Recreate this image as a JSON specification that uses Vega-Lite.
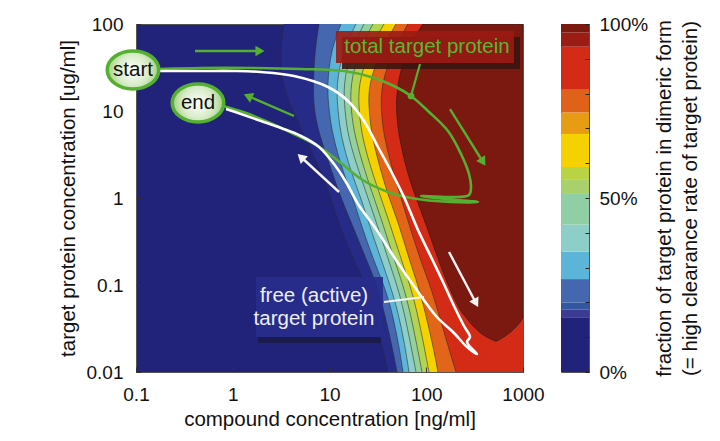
{
"$schema": "https://vega.github.io/schema/vega-lite/v6.json",
"background": "white",
"padding": {"left": 57, "top": 14, "right": 5, "bottom": 5},
"spacing": 38,
"bounds": "flush",
"config": {"font": "Liberation Sans", "view": {"stroke": null}},
"datasets": {
"bands": [
{"y":100,"A":3.39,"B":7.79,"C":13.15,"D":18.79,"E":22.73,"F":28.16,"G":36.59,"H":48.68,"I":64.77},
{"y":50,"A":3.08,"B":7.08,"C":10.36,"D":13.79,"E":16.68,"F":20.18,"G":25.61,"H":34.07,"I":45.33},
{"y":20,"A":3.23,"B":6.75,"C":9.42,"D":11.67,"E":13.79,"F":16.29,"G":19.71,"H":25.0,"I":34.07},
{"y":10,"A":4.2,"B":6.91,"C":9.88,"D":12.24,"E":14.46,"F":16.68,"G":20.18,"H":25.61,"I":34.07},
{"y":5,"A":5.58,"B":7.98,"C":10.87,"D":13.15,"E":15.53,"F":18.35,"G":21.67,"H":27.5,"I":36.59},
{"y":2,"A":8.17,"B":10.61,"C":13.79,"D":16.68,"E":20.18,"F":23.28,"G":27.5,"H":34.07,"I":45.33},
{"y":1,"A":10.36,"B":13.15,"C":17.5,"D":21.16,"E":25.0,"F":28.84,"G":34.07,"H":41.21,"I":54.83},
{"y":0.5,"A":12.54,"B":17.08,"C":21.16,"D":25.61,"E":30.97,"F":35.73,"G":42.2,"H":52.29,"I":66.32},
{"y":0.2,"A":17.5,"B":23.84,"C":28.16,"D":34.07,"E":40.24,"F":46.42,"G":54.83,"H":66.32,"I":86.17},
{"y":0.1,"A":23.84,"B":30.97,"C":36.59,"D":42.2,"E":49.86,"F":57.5,"G":67.92,"H":82.18,"I":109.3},
{"y":0.05,"A":28.84,"B":36.59,"C":44.26,"D":51.05,"E":58.88,"F":67.92,"G":80.25,"H":97.07,"I":132.3},
{"y":0.02,"A":34.89,"B":44.26,"C":52.29,"D":60.31,"E":69.56,"F":80.25,"G":94.8,"H":117.4,"I":167.8},
{"y":0.01,"A":40.24,"B":49.86,"C":57.5,"D":66.32,"E":78.37,"F":90.4,"G":106.8,"H":132.3,"I":203.0}
],
"darkred": [
{"y":100,"xl":92.56,"xr":1000},
{"y":50,"xl":61.76,"xr":1000},
{"y":20,"xl":49.86,"xr":1000},
{"y":10,"xl":48.68,"xr":1000},
{"y":5,"xl":52.29,"xr":1000},
{"y":2,"xl":63.24,"xr":1000},
{"y":1,"xl":78.37,"xr":1000},
{"y":0.5,"xl":99.4,"xr":1000},
{"y":0.2,"xl":132.3,"xr":1000},
{"y":0.1,"xl":167.8,"xr":1000},
{"y":0.05,"xl":223.3,"xr":1000},
{"y":0.0429,"xl":257.6,"xr":1000},
{"y":0.0376,"xl":276.6,"xr":953.5},
{"y":0.0288,"xl":351.0,"xr":751.6},
{"y":0.0253,"xl":414.6,"xr":636.3},
{"y":0.0227,"xl":513.5,"xr":538.6}
],
"boxes": [
{"x1":13.46,"x2":931,"y1":70.9,"y2":30.4,"kind":"shadowred"},
{"x1":11.67,"x2":807,"y1":83.1,"y2":35.6,"kind":"boxred"},
{"x1":1.824,"x2":34.07,"y1":0.02526,"y2":0.02154,"kind":"shadownavy"},
{"x1":1.739,"x2":35.73,"y1":0.1236,"y2":0.02526,"kind":"boxnavy"}
],
"paths": [
{"path":"total","i":1,"x":0.1729,"y":30.4},
{"path":"total","i":2,"x":0.4697,"y":31.21},
{"path":"total","i":3,"x":1.544,"y":31.21},
{"path":"total","i":4,"x":5.074,"y":30.4},
{"path":"total","i":5,"x":14.12,"y":28.83},
{"path":"total","i":6,"x":26.85,"y":24.59},
{"path":"total","i":7,"x":46.42,"y":19.39},
{"path":"total","i":8,"x":69.56,"y":14.87},
{"path":"total","i":9,"x":104.3,"y":10.0},
{"path":"total","i":10,"x":167.8,"y":5.891},
{"path":"total","i":11,"x":228.7,"y":3.204},
{"path":"total","i":12,"x":276.6,"y":1.888},
{"path":"total","i":13,"x":290.0,"y":1.338},
{"path":"total","i":14,"x":276.6,"y":1.083},
{"path":"total","i":15,"x":180.2,"y":1.027},
{"path":"total","i":16,"x":88.25,"y":1.054},
{"path":"total","i":17,"x":160.0,"y":0.9739},
{"path":"total","i":18,"x":342.7,"y":0.8995},
{"path":"total","i":19,"x":180.2,"y":0.8995},
{"path":"total","i":20,"x":69.56,"y":1.0},
{"path":"total","i":21,"x":40.24,"y":1.172},
{"path":"total","i":22,"x":21.16,"y":1.653},
{"path":"total","i":23,"x":13.15,"y":2.525},
{"path":"total","i":24,"x":7.605,"y":3.96},
{"path":"total","i":25,"x":4.297,"y":5.439},
{"path":"total","i":26,"x":2.314,"y":7.475},
{"path":"total","i":27,"x":1.371,"y":9.485},
{"path":"total","i":28,"x":0.7929,"y":11.42},
{"path":"free","i":1,"x":0.1729,"y":28.83},
{"path":"free","i":2,"x":0.4697,"y":28.83},
{"path":"free","i":3,"x":1.03,"y":28.83},
{"path":"free","i":4,"x":1.959,"y":28.07},
{"path":"free","i":5,"x":4.297,"y":25.25},
{"path":"free","i":6,"x":9.65,"y":18.88},
{"path":"free","i":7,"x":15.53,"y":13.03},
{"path":"free","i":8,"x":22.73,"y":7.675},
{"path":"free","i":9,"x":31.72,"y":3.857},
{"path":"free","i":10,"x":43.22,"y":2.043},
{"path":"free","i":11,"x":58.88,"y":1.027},
{"path":"free","i":12,"x":82.18,"y":0.4287},
{"path":"free","i":13,"x":117.4,"y":0.1887},
{"path":"free","i":14,"x":149.0,"y":0.1083},
{"path":"free","i":15,"x":193.6,"y":0.05736},
{"path":"free","i":16,"x":245.6,"y":0.03379},
{"path":"free","i":17,"x":283.3,"y":0.02526},
{"path":"free","i":18,"x":263.8,"y":0.02213},
{"path":"free","i":19,"x":334.6,"y":0.0161},
{"path":"free","i":20,"x":257.6,"y":0.0199},
{"path":"free","i":21,"x":193.6,"y":0.02807},
{"path":"free","i":22,"x":126.1,"y":0.04402},
{"path":"free","i":23,"x":78.37,"y":0.08995},
{"path":"free","i":24,"x":48.68,"y":0.1939},
{"path":"free","i":25,"x":30.24,"y":0.4402},
{"path":"free","i":26,"x":19.71,"y":0.8532},
{"path":"free","i":27,"x":14.81,"y":1.527},
{"path":"free","i":28,"x":11.13,"y":2.459},
{"path":"free","i":29,"x":7.79,"y":3.857},
{"path":"free","i":30,"x":5.074,"y":5.158},
{"path":"free","i":31,"x":3.153,"y":6.376},
{"path":"free","i":32,"x":1.959,"y":7.675},
{"path":"free","i":33,"x":1.217,"y":9.238},
{"path":"free","i":34,"x":0.8516,"y":10.54}
],
"pointers": [
{"x":86.2,"y":34.7,"x2":69.56,"y2":14.87,"kind":"green"},
{"x":36.59,"y":0.0638,"x2":94.8,"y2":0.0728,"kind":"white"}
],
"dots": [{"x":69.56,"y":14.87}],
"arrows": [
{"x":0.4072,"y":48.95,"x2":1.913,"y2":48.95,"kind":"green","heading":90},
{"x":4.297,"y":8.76,"x2":1.438,"y2":14.87,"kind":"green","heading":293.5},
{"x":176.0,"y":10.54,"x2":386.0,"y2":2.593,"kind":"green","heading":148},
{"x":12.54,"y":1.172,"x2":5.074,"y2":2.96,"kind":"white","heading":312.6},
{"x":171.9,"y":0.2394,"x2":326.8,"y2":0.0621,"kind":"white","heading":152}
],
"ovals": [{"x":0.0931,"y":29.6,"label":"start"},{"x":0.4373,"y":12.36,"label":"end"}],
"texts": [
{"x":101.8,"y":54.4,"text":"total target protein","kind":"green"},
{"x":6.914,"y":0.0747,"text":"free (active)","kind":"white"},
{"x":6.914,"y":0.0407,"text":"target protein","kind":"white"},
{"x":0.0931,"y":29.6,"text":"start","kind":"black"},
{"x":0.4373,"y":12.36,"text":"end","kind":"black"}
],
"cbar": [
{"lo":0,"hi":15.7,"band":"b01"},
{"lo":15.7,"hi":18,"band":"b02"},
{"lo":18,"hi":20,"band":"b03"},
{"lo":20,"hi":26.7,"band":"b04"},
{"lo":26.7,"hi":34.6,"band":"b05"},
{"lo":34.6,"hi":42.4,"band":"b06"},
{"lo":42.4,"hi":51.4,"band":"b07"},
{"lo":51.4,"hi":55.2,"band":"b08"},
{"lo":55.2,"hi":58.9,"band":"b09"},
{"lo":58.9,"hi":68.4,"band":"b10"},
{"lo":68.4,"hi":74.6,"band":"b11"},
{"lo":74.6,"hi":81.1,"band":"b12"},
{"lo":81.1,"hi":93.5,"band":"b13"},
{"lo":93.5,"hi":97.6,"band":"b14"},
{"lo":97.6,"hi":100,"band":"b15"}
]
},
"hconcat": [
{
"width": 387,
"height": 348,
"view": {"fill": "#21237a", "stroke": "#555555", "strokeWidth": 1},
"resolve": {"scale": {"color": "independent"}},
"layer": [
{"data":{"name":"bands"},"mark":{"type":"area","orient":"horizontal","interpolate":"basis","fill":"#262b87","clip":true},
 "encoding":{
  "y":{"field":"y","type":"quantitative","scale":{"type":"log","domain":[0.01,100],"nice":false},"title":"target protein concentration [ug/ml]",
   "axis":{"values":[0.01,0.1,1,10,100],"format":"~g","labelFontSize":19,"labelColor":"#111111","titleFontSize":20.5,"titleFontWeight":"normal","titleColor":"#111111","tickSize":-5,"tickColor":"#333333","labelPadding":18,"titlePadding":8,"domain":false,"grid":false,"zindex":1}},
  "x":{"field":"A","type":"quantitative","scale":{"type":"log","domain":[0.1,1000],"nice":false},"title":"compound concentration [ng/ml]",
   "axis":{"values":[0.1,1,10,100,1000],"format":"~g","labelFlush":false,"labelFontSize":19,"labelColor":"#111111","titleFontSize":20.5,"titleFontWeight":"normal","titleColor":"#111111","tickSize":-5,"tickColor":"#333333","labelPadding":18,"titlePadding":5,"domain":false,"grid":false,"zindex":1}},
  "x2":{"datum":1000}}},
{"data":{"name":"bands"},"mark":{"type":"area","orient":"horizontal","interpolate":"basis","fill":"#4467b0","clip":true},
 "encoding":{"y":{"field":"y","type":"quantitative","scale":{"type":"log","domain":[0.01,100],"nice":false},"title":"target protein concentration [ug/ml]"},"x":{"field":"B","type":"quantitative","scale":{"type":"log","domain":[0.1,1000],"nice":false},"title":"compound concentration [ng/ml]"},"x2":{"datum":1000}}},
{"data":{"name":"bands"},"mark":{"type":"area","orient":"horizontal","interpolate":"basis","fill":"#5cb4d9","clip":true},
 "encoding":{"y":{"field":"y","type":"quantitative","scale":{"type":"log","domain":[0.01,100],"nice":false},"title":"target protein concentration [ug/ml]"},"x":{"field":"C","type":"quantitative","scale":{"type":"log","domain":[0.1,1000],"nice":false},"title":"compound concentration [ng/ml]"},"x2":{"datum":1000}}},
{"data":{"name":"bands"},"mark":{"type":"area","orient":"horizontal","interpolate":"basis","fill":"#8dcfc8","clip":true},
 "encoding":{"y":{"field":"y","type":"quantitative","scale":{"type":"log","domain":[0.01,100],"nice":false},"title":"target protein concentration [ug/ml]"},"x":{"field":"D","type":"quantitative","scale":{"type":"log","domain":[0.1,1000],"nice":false},"title":"compound concentration [ng/ml]"},"x2":{"datum":1000}}},
{"data":{"name":"bands"},"mark":{"type":"area","orient":"horizontal","interpolate":"basis","fill":"#93d09c","clip":true},
 "encoding":{"y":{"field":"y","type":"quantitative","scale":{"type":"log","domain":[0.01,100],"nice":false},"title":"target protein concentration [ug/ml]"},"x":{"field":"E","type":"quantitative","scale":{"type":"log","domain":[0.1,1000],"nice":false},"title":"compound concentration [ng/ml]"},"x2":{"datum":1000}}},
{"data":{"name":"bands"},"mark":{"type":"area","orient":"horizontal","interpolate":"basis","fill":"#b3d452","clip":true},
 "encoding":{"y":{"field":"y","type":"quantitative","scale":{"type":"log","domain":[0.01,100],"nice":false},"title":"target protein concentration [ug/ml]"},"x":{"field":"F","type":"quantitative","scale":{"type":"log","domain":[0.1,1000],"nice":false},"title":"compound concentration [ng/ml]"},"x2":{"datum":1000}}},
{"data":{"name":"bands"},"mark":{"type":"area","orient":"horizontal","interpolate":"basis","fill":"#f5d100","clip":true},
 "encoding":{"y":{"field":"y","type":"quantitative","scale":{"type":"log","domain":[0.01,100],"nice":false},"title":"target protein concentration [ug/ml]"},"x":{"field":"G","type":"quantitative","scale":{"type":"log","domain":[0.1,1000],"nice":false},"title":"compound concentration [ng/ml]"},"x2":{"datum":1000}}},
{"data":{"name":"bands"},"mark":{"type":"area","orient":"horizontal","interpolate":"basis","fill":"#e2651a","clip":true},
 "encoding":{"y":{"field":"y","type":"quantitative","scale":{"type":"log","domain":[0.01,100],"nice":false},"title":"target protein concentration [ug/ml]"},"x":{"field":"H","type":"quantitative","scale":{"type":"log","domain":[0.1,1000],"nice":false},"title":"compound concentration [ng/ml]"},"x2":{"datum":1000}}},
{"data":{"name":"bands"},"mark":{"type":"area","orient":"horizontal","interpolate":"basis","fill":"#d42b17","clip":true},
 "encoding":{"y":{"field":"y","type":"quantitative","scale":{"type":"log","domain":[0.01,100],"nice":false},"title":"target protein concentration [ug/ml]"},"x":{"field":"I","type":"quantitative","scale":{"type":"log","domain":[0.1,1000],"nice":false},"title":"compound concentration [ng/ml]"},"x2":{"datum":1000}}},
{"data":{"name":"bands"},"transform":[{"fold":["A","B","C","D","E","F","G","H","I"],"as":["lvl","bx"]}],
 "mark":{"type":"line","interpolate":"basis","color":"#2a2a33","strokeWidth":0.8,"opacity":0.7,"clip":true},
 "encoding":{"y":{"field":"y","type":"quantitative","scale":{"type":"log","domain":[0.01,100],"nice":false},"title":"target protein concentration [ug/ml]"},"x":{"field":"bx","type":"quantitative","scale":{"type":"log","domain":[0.1,1000],"nice":false},"title":"compound concentration [ng/ml]"},"detail":{"field":"lvl"},"order":{"field":"y","type":"quantitative"}}},
{"data":{"name":"darkred"},"mark":{"type":"area","orient":"horizontal","interpolate":"basis","fill":"#7b1911","stroke":"#3a1c1c","strokeWidth":0.8,"clip":true},
 "encoding":{"y":{"field":"y","type":"quantitative","scale":{"type":"log","domain":[0.01,100],"nice":false},"title":"target protein concentration [ug/ml]"},"x":{"field":"xl","type":"quantitative","scale":{"type":"log","domain":[0.1,1000],"nice":false},"title":"compound concentration [ng/ml]"},"x2":{"field":"xr"}}},
{"data":{"name":"boxes"},"mark":{"type":"rect","opacity":0.9,"clip":true},
 "encoding":{"x":{"field":"x1","type":"quantitative","scale":{"type":"log","domain":[0.1,1000],"nice":false},"title":"compound concentration [ng/ml]"},"x2":{"field":"x2"},
  "y":{"field":"y1","type":"quantitative","scale":{"type":"log","domain":[0.01,100],"nice":false},"title":"target protein concentration [ug/ml]"},"y2":{"field":"y2"},
  "color":{"field":"kind","type":"nominal","scale":{"domain":["shadowred","boxred","shadownavy","boxnavy"],"range":["#3a1410","#9b1b13","#1b1c48","#282c8c"]},"legend":null}}},
{"data":{"name":"paths"},"mark":{"type":"line","interpolate":"catmull-rom","strokeWidth":2.6,"clip":true},
 "encoding":{"x":{"field":"x","type":"quantitative","scale":{"type":"log","domain":[0.1,1000],"nice":false},"title":"compound concentration [ng/ml]"},
  "y":{"field":"y","type":"quantitative","scale":{"type":"log","domain":[0.01,100],"nice":false},"title":"target protein concentration [ug/ml]"},
  "detail":{"field":"path"},"order":{"field":"i","type":"quantitative"},
  "color":{"field":"path","type":"nominal","scale":{"domain":["total","free"],"range":["#55b032","#ffffff"]},"legend":null}}},
{"data":{"name":"pointers"},"mark":{"type":"rule","strokeWidth":2.2},
 "encoding":{"x":{"field":"x","type":"quantitative","scale":{"type":"log","domain":[0.1,1000],"nice":false},"title":"compound concentration [ng/ml]"},"x2":{"field":"x2"},
  "y":{"field":"y","type":"quantitative","scale":{"type":"log","domain":[0.01,100],"nice":false},"title":"target protein concentration [ug/ml]"},"y2":{"field":"y2"},
  "color":{"field":"kind","type":"nominal","scale":{"domain":["green","white"],"range":["#55b032","#f4f4f4"]},"legend":null}}},
{"data":{"name":"dots"},"mark":{"type":"point","filled":true,"size":45,"color":"#55b032","opacity":1},
 "encoding":{"x":{"field":"x","type":"quantitative","scale":{"type":"log","domain":[0.1,1000],"nice":false},"title":"compound concentration [ng/ml]"},
  "y":{"field":"y","type":"quantitative","scale":{"type":"log","domain":[0.01,100],"nice":false},"title":"target protein concentration [ug/ml]"}}},
{"data":{"name":"arrows"},"mark":{"type":"rule","strokeWidth":2.4},
 "encoding":{"x":{"field":"x","type":"quantitative","scale":{"type":"log","domain":[0.1,1000],"nice":false},"title":"compound concentration [ng/ml]"},"x2":{"field":"x2"},
  "y":{"field":"y","type":"quantitative","scale":{"type":"log","domain":[0.01,100],"nice":false},"title":"target protein concentration [ug/ml]"},"y2":{"field":"y2"},
  "color":{"field":"kind","type":"nominal","scale":{"domain":["green","white"],"range":["#55b032","#f4f4f4"]},"legend":null}}},
{"data":{"name":"arrows"},"mark":{"type":"point","shape":"triangle-up","filled":true,"size":110,"opacity":1},
 "encoding":{"x":{"field":"x2","type":"quantitative","scale":{"type":"log","domain":[0.1,1000],"nice":false},"title":"compound concentration [ng/ml]"},
  "y":{"field":"y2","type":"quantitative","scale":{"type":"log","domain":[0.01,100],"nice":false},"title":"target protein concentration [ug/ml]"},
  "angle":{"field":"heading","type":"quantitative","scale":{"domain":[0,360],"range":[0,360]}},
  "color":{"field":"kind","type":"nominal","scale":{"domain":["green","white"],"range":["#55b032","#f4f4f4"]},"legend":null}}},
{"data":{"name":"ovals"},"mark":{"type":"point","shape":"M-1,0A1,0.74 0 1,0 1,0A1,0.74 0 1,0 -1,0Z","size":2650,"filled":true,"opacity":1,
  "fill":{"gradient":"radial","stops":[{"offset":0,"color":"#ffffff"},{"offset":0.6,"color":"#d8ecc8"},{"offset":1,"color":"#9fd07e"}]},
  "stroke":"#55b032","strokeWidth":3.5},
 "encoding":{"x":{"field":"x","type":"quantitative","scale":{"type":"log","domain":[0.1,1000],"nice":false},"title":"compound concentration [ng/ml]"},
  "y":{"field":"y","type":"quantitative","scale":{"type":"log","domain":[0.01,100],"nice":false},"title":"target protein concentration [ug/ml]"}}},
{"data":{"name":"texts"},"mark":{"type":"text","fontSize":20.5,"font":"Liberation Sans","align":"center","baseline":"middle"},
 "encoding":{"x":{"field":"x","type":"quantitative","scale":{"type":"log","domain":[0.1,1000],"nice":false},"title":"compound concentration [ng/ml]"},
  "y":{"field":"y","type":"quantitative","scale":{"type":"log","domain":[0.01,100],"nice":false},"title":"target protein concentration [ug/ml]"},
  "text":{"field":"text"},
  "color":{"field":"kind","type":"nominal","scale":{"domain":["green","white","black"],"range":["#5db535","#eeeef6","#111111"]},"legend":null}}}
]
},
{
"width": 28,
"height": 348,
"data": {"name": "cbar"},
"view": {"stroke": "#555555", "strokeWidth": 1},
"mark": {"type": "rect"},
"encoding": {
 "y": {"field":"lo","type":"quantitative","scale":{"domain":[0,100],"nice":false},
  "axis":{"orient":"right","values":[0,10,20,30,40,50,60,70,80,90,100],"labelExpr":"datum.value % 50 === 0 ? datum.value + '%' : ''","labelFontSize":19,"labelColor":"#111111","tickSize":-4,"tickColor":"#222222","labelPadding":14,"domain":false,"grid":false,"zindex":1,
   "title":["fraction of target protein in dimeric form","(= high clearance rate of target protein)"],"titleAngle":270,"titleFontSize":20.5,"titleFontWeight":"normal","titleColor":"#111111","titlePadding":1,"titleLineHeight":26}},
 "y2": {"field":"hi"},
 "color": {"field":"band","type":"nominal","scale":{"domain":["b01","b02","b03","b04","b05","b06","b07","b08","b09","b10","b11","b12","b13","b14","b15"],"range":["#21237a","#3a3b91","#3356a1","#4467b0","#5cb4d9","#8dcfc8","#8fcfa3","#a9d16b","#b8d444","#f5d100","#e89c14","#e0621a","#d42b17","#9a1c14","#7b1911"]},"legend":null}
}
}
]
}
